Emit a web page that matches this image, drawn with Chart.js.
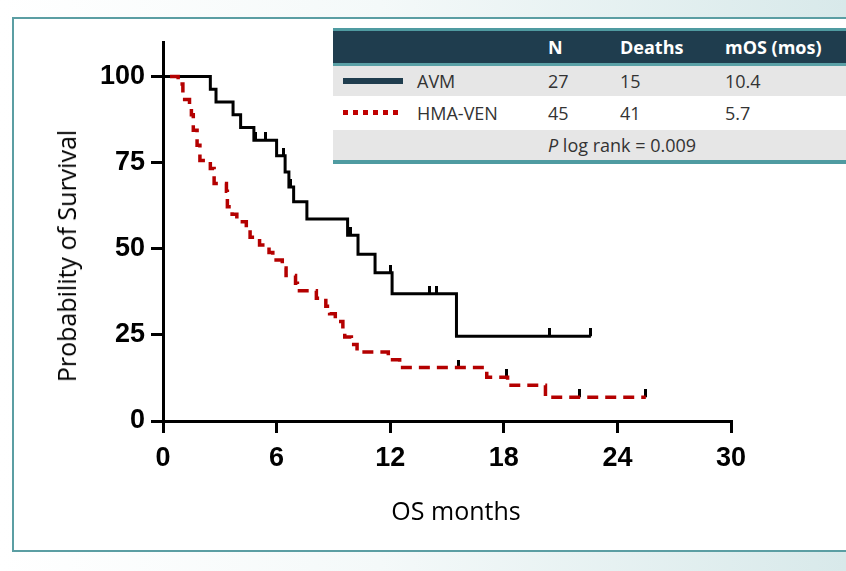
<!DOCTYPE html>
<html><head><meta charset="utf-8">
<script src="https://cdn.jsdelivr.net/npm/chart.js@4.4.1/dist/chart.umd.min.js"></script>
<style>
html,body{margin:0;padding:0}
body{width:846px;height:571px;overflow:hidden;position:relative;background:linear-gradient(90deg,#ffffff 0%,#f4f9f9 45%,#d8e9ea 100%);font-family:'Open Sans',sans-serif}
#panel{position:absolute;left:12px;top:17px;width:840px;height:531px;background:#fff;border:2px solid #5b9ea3;border-right:none}
#c{position:absolute;left:0;top:0}
#tbl{position:absolute;left:333px;top:28px;width:520px;font-size:18px;color:#333}
#tbl .row{position:relative}
#tbl .row span{position:absolute;top:0;white-space:nowrap}
#hdr{height:32px;line-height:32px;background:#1f3d4e;border-top:3px solid #4f9ba1;border-bottom:3px solid #5aa0a6;color:#fff;font-weight:bold}
#r1{height:30px;line-height:30px;background:#e6e6e6}
#r2{height:34px;line-height:34px;background:#fff}
#r3{height:30px;line-height:30px;background:#e6e6e6;border-bottom:4px solid #4f9ba1}
.sw1{position:absolute;left:10px;top:12px;width:60px;height:6px;background:#1f3d4e}
.sw2{position:absolute;left:10px;top:14px;width:60px;height:5px;background:repeating-linear-gradient(90deg,#c00000 0 5px,transparent 5px 10px)}
.ttl{position:absolute;font-family:'Open Sans',sans-serif;font-size:25px;color:#000;white-space:nowrap}
</style></head>
<body>
<div id="panel"></div>
<canvas id="c" width="846" height="571"></canvas>
<div class="ttl" id="ytitle" style="left:66px;top:256px;transform:translate(-50%,-50%) rotate(-90deg)">Probability of Survival</div>
<div class="ttl" id="xtitle" style="left:456px;top:510px;transform:translate(-50%,-50%)">OS months</div>
<div id="tbl">
  <div class="row" id="hdr"><span style="left:215px">N</span><span style="left:287px">Deaths</span><span style="left:392px">mOS (mos)</span></div>
  <div class="row" id="r1"><div class="sw1"></div><span style="left:84px">AVM</span><span style="left:215px">27</span><span style="left:287px">15</span><span style="left:392px">10.4</span></div>
  <div class="row" id="r2"><div class="sw2"></div><span style="left:84px">HMA-VEN</span><span style="left:215px">45</span><span style="left:287px">41</span><span style="left:392px">5.7</span></div>
  <div class="row" id="r3"><span style="left:215px"><i>P</i> log rank = 0.009</span></div>
</div>
<script>
// AVM Kaplan-Meier steps (months, % surviving)
const avmTime = [0, 2.5, 2.8, 3.7, 4.1, 4.8, 6.0, 6.45, 6.65, 6.9, 7.6, 9.75, 10.3, 11.2, 12.1, 15.5, 22.6];
const avmSurv = [100, 96.3, 92.6, 88.9, 85.2, 81.5, 77.0, 72.3, 67.9, 63.6, 58.6, 53.9, 48.4, 43.0, 36.9, 24.6, 24.6];
const avmCensorTime = [4.9, 5.4, 6.35, 6.75, 9.9, 12.0, 14.1, 14.45, 20.4, 22.6];
const avmCensorSurv = [81.5, 81.5, 77.0, 67.9, 53.9, 43.0, 36.9, 36.9, 24.6, 24.6];
// HMA-VEN Kaplan-Meier steps
const venTime = [0, 0.8, 1.05, 1.4, 1.5, 1.6, 1.8, 1.95, 2.5, 2.7, 3.35, 3.4, 3.65, 3.9, 4.4, 4.6, 5.1, 5.6, 5.8, 6.3, 6.5, 7.0, 7.1, 8.1, 8.6, 8.8, 9.1, 9.5, 9.6, 9.95, 10.25, 11.9, 12.5, 17.1, 18.2, 20.2, 25.5];
const venSurv = [100, 97.8, 93.3, 91.1, 88.9, 84.4, 80.0, 75.6, 73.3, 68.9, 66.7, 62.2, 60.0, 57.8, 55.6, 53.3, 51.1, 48.9, 46.7, 44.4, 42.2, 40.0, 37.8, 35.6, 33.3, 31.1, 28.9, 26.7, 24.4, 22.2, 20.0, 17.8, 15.5, 12.7, 10.4, 6.9, 6.9];
const venCensorTime = [15.6, 18.15, 22.0, 25.5];
const venCensorSurv = [15.5, 12.7, 6.9, 6.9];
// axis ticks
const xTicks = [0, 6, 12, 18, 24, 30];
const yTicks = [0, 25, 50, 75, 100];

const toPts = (xs, ys) => xs.map((x, i) => ({x: x, y: ys[i]}));
function tickImg(){
  const c = document.createElement('canvas'); c.width = 3; c.height = 16;
  const g = c.getContext('2d'); g.fillStyle = '#000'; g.fillRect(0, 0, 3, 8);
  return c;
}
const censorMark = tickImg();
const tickFont = {family: "'Liberation Sans', Arial, sans-serif", weight: 'bold', size: 27};
const gridOpts = {display: true, drawOnChartArea: false, drawTicks: true, tickLength: 12, lineWidth: 3, color: '#000'};
const borderOpts = {display: true, width: 3, color: '#000'};

new Chart(document.getElementById('c'), {
  type: 'line',
  data: {datasets: [
    {data: toPts(venTime, venSurv), stepped: true, borderColor: '#b40000', borderWidth: 3.5, borderDash: [11, 7], borderDashOffset: 11, pointRadius: 0, fill: false},
    {data: toPts(avmTime, avmSurv), stepped: true, borderColor: '#000', borderWidth: 3, pointRadius: 0, fill: false},
    {data: toPts(avmCensorTime, avmCensorSurv), showLine: false, pointStyle: censorMark, pointRadius: 4},
    {data: toPts(venCensorTime, venCensorSurv), showLine: false, pointStyle: censorMark, pointRadius: 4}
  ]},
  options: {
    responsive: false, animation: false, devicePixelRatio: 1,
    layout: {padding: {left: 0, top: 42, right: 115, bottom: 0}},
    plugins: {legend: {display: false}, tooltip: {enabled: false}},
    scales: {
      x: {type: 'linear', min: 0, max: 30,
        afterBuildTicks: s => { s.ticks = xTicks.map(v => ({value: v})); },
        afterFit: s => { s.height = 150; },
        ticks: {font: tickFont, color: '#000', padding: 9, maxRotation: 0, autoSkip: false},
        grid: gridOpts, border: borderOpts},
      y: {type: 'linear', min: 0, max: 110,
        afterBuildTicks: s => { s.ticks = yTicks.map(v => ({value: v})); },
        afterFit: s => { s.width = 163; },
        ticks: {font: tickFont, color: '#000', padding: 6, autoSkip: false},
        grid: gridOpts, border: borderOpts}
    }
  }
});
</script>
</body></html>
